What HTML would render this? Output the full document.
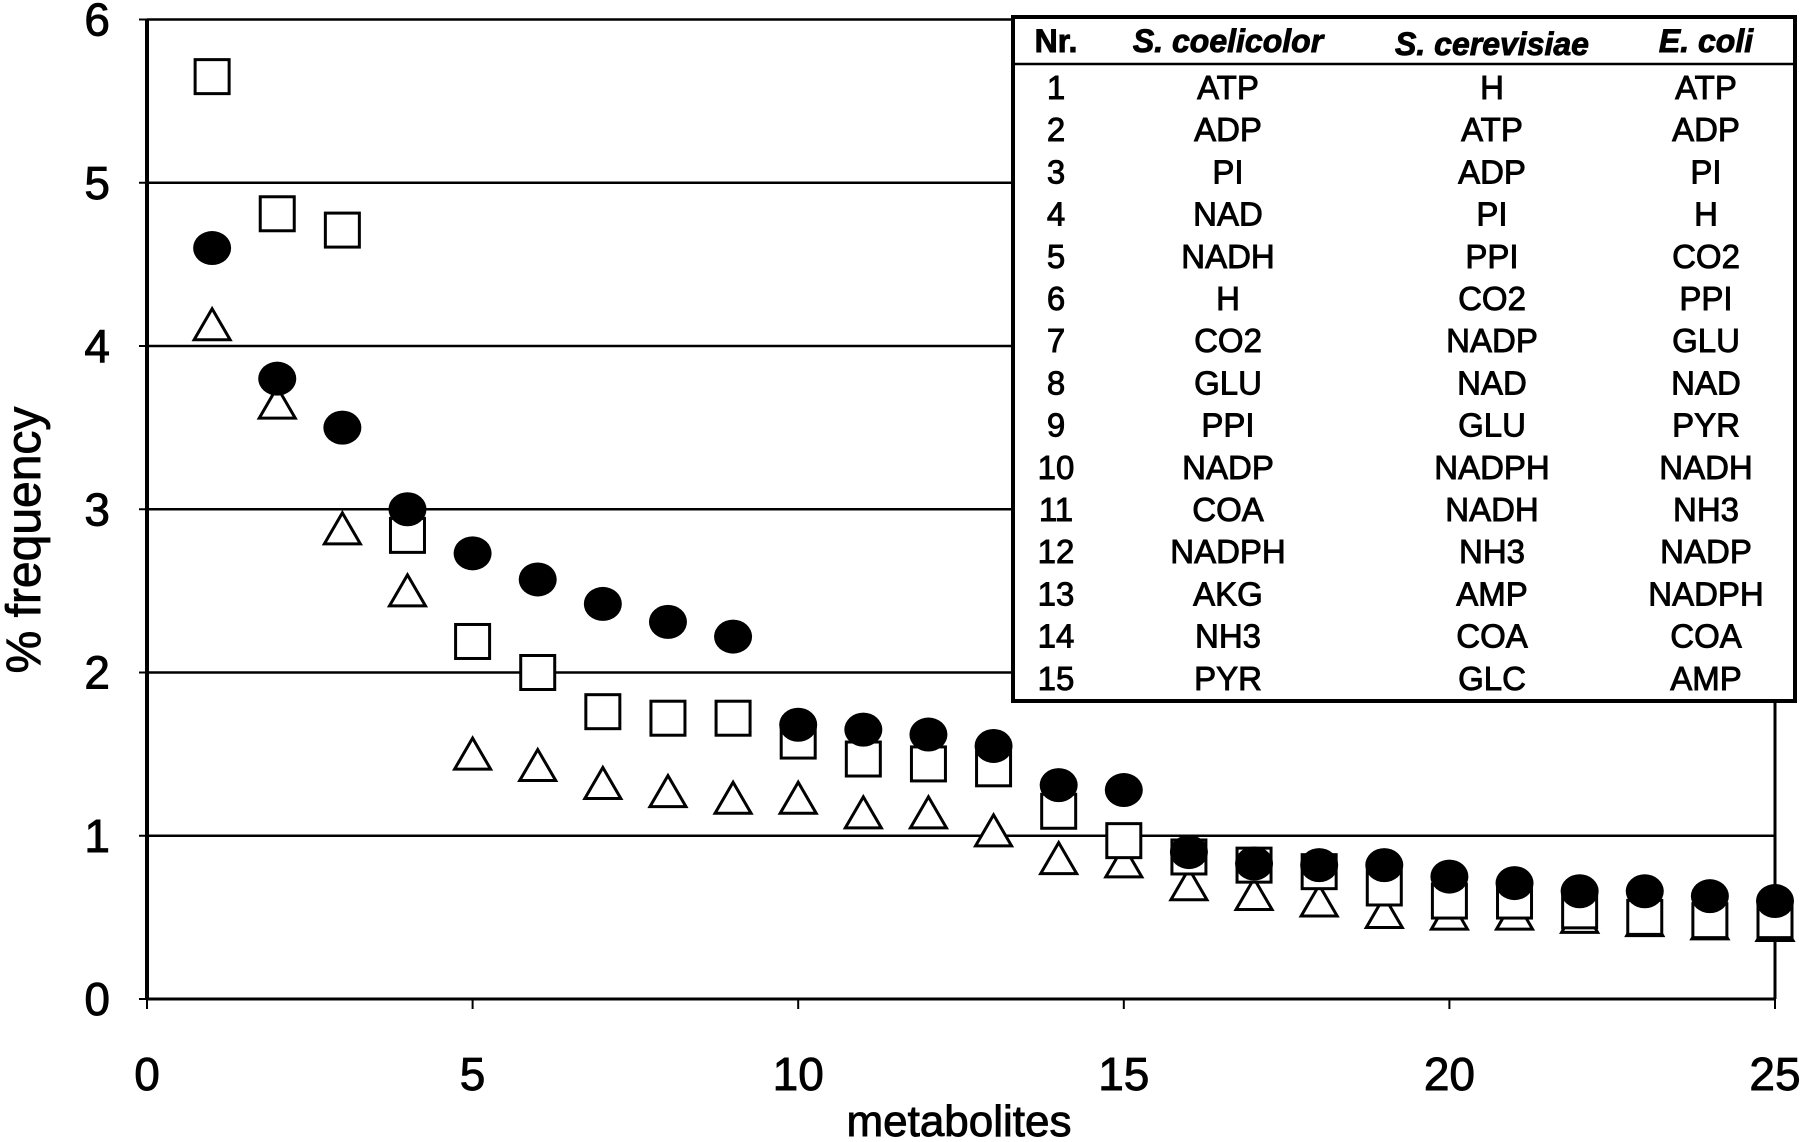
<!DOCTYPE html>
<html><head><meta charset="utf-8"><style>
body{margin:0;background:#fff}
svg{display:block;font-family:"Liberation Sans",Arial,sans-serif}
svg text{stroke:#000;stroke-width:0.9px}
</style></head><body>
<svg id="chart" width="1800" height="1142" viewBox="0 0 1800 1142" xmlns="http://www.w3.org/2000/svg">
<g id="grid"></g>
<g id="axes"></g>
<g id="marks"></g>
<text x="959" y="1136" font-size="44" text-anchor="middle">metabolites</text>
<text transform="translate(40,540) rotate(-90)" font-size="48" text-anchor="middle">% frequency</text>
<g id="table"></g>
</svg>
<script>
const xTicks=[0,5,10,15,20,25];
const yTicks=[0,1,2,3,4,5,6];
const xs=[1,2,3,4,5,6,7,8,9,10,11,12,13,14,15,16,17,18,19,20,21,22,23,24,25];
const circleVals=[4.6,3.8,3.5,3.0,2.73,2.57,2.42,2.31,2.22,1.68,1.65,1.62,1.55,1.31,1.28,0.9,0.83,0.82,0.82,0.75,0.71,0.66,0.66,0.63,0.6];
const squareVals=[5.65,4.81,4.71,2.84,2.19,2.0,1.76,1.72,1.72,1.58,1.47,1.44,1.41,1.15,0.97,0.87,0.82,0.78,0.68,0.6,0.6,0.54,0.5,0.48,0.48];
const triangleVals=[4.13,3.65,2.88,2.5,1.5,1.43,1.32,1.27,1.23,1.23,1.14,1.14,1.03,0.86,0.84,0.7,0.64,0.6,0.53,0.52,0.52,0.5,0.48,0.46,0.45];
const tableHeader=["Nr.","S. coelicolor","S. cerevisiae","E. coli"];
const colCoel=["ATP","ADP","PI","NAD","NADH","H","CO2","GLU","PPI","NADP","COA","NADPH","AKG","NH3","PYR"];
const colCer=["H","ATP","ADP","PI","PPI","CO2","NADP","NAD","GLU","NADPH","NADH","NH3","AMP","COA","GLC"];
const colEcoli=["ATP","ADP","PI","H","CO2","PPI","GLU","NAD","PYR","NADH","NH3","NADP","NADPH","COA","AMP"];

const NS="http://www.w3.org/2000/svg";
const X0=147,X1=1775,Y0=999,Y1=19.5;
const xS=v=>X0+(X1-X0)*v/25;
const yS=v=>Y0-(Y0-Y1)*v/6;
function mk(tag,parent,attrs){const e=document.createElementNS(NS,tag);for(const k in attrs)e.setAttribute(k,attrs[k]);parent.appendChild(e);return e;}
const grid=document.getElementById('grid'),axes=document.getElementById('axes'),marks=document.getElementById('marks'),table=document.getElementById('table');

yTicks.forEach(t=>{
  if(t>0&&t<6){const l=mk('line',grid,{x1:X0,x2:X1,y1:yS(t),y2:yS(t),stroke:'#000','stroke-width':2.5});
  
  }
  const tk=mk('line',axes,{x1:X0-8,x2:X0,y1:yS(t),y2:yS(t),stroke:'#000','stroke-width':2});
  
  
  const tx=mk('text',axes,{x:110,y:yS(t)+16,'font-size':46,'text-anchor':'end'});
  tx.textContent=t;
  
  
});
xTicks.forEach(t=>{
  const tk=mk('line',axes,{x1:xS(t),x2:xS(t),y1:Y0,y2:Y0+10,stroke:'#000','stroke-width':2});
  
  
  const tx=mk('text',axes,{x:xS(t),y:1090,'font-size':46,'text-anchor':'middle'});
  tx.textContent=t;
  
  
});
let a=mk('line',axes,{x1:X0,x2:X0,y1:Y1,y2:Y0,stroke:'#000','stroke-width':4});


a=mk('line',axes,{x1:X0,x2:X1,y1:Y0,y2:Y0,stroke:'#000','stroke-width':3});


a=mk('line',axes,{x1:X0,x2:X1,y1:Y1,y2:Y1,stroke:'#000','stroke-width':2.5});


a=mk('line',axes,{x1:X1,x2:X1,y1:Y1,y2:Y0,stroke:'#000','stroke-width':3});



xs.forEach((x,i)=>{
  const cx=xS(x),cy=yS(triangleVals[i]);
  const p=mk('polygon',marks,{points:`${cx-18},${cy+15} ${cx+18},${cy+15} ${cx},${cy-16}`,fill:'#fff',stroke:'#000','stroke-width':3});
  
  
});
xs.forEach((x,i)=>{
  const r=mk('rect',marks,{x:xS(x)-17,y:yS(squareVals[i])-17,width:34,height:34,fill:'#fff',stroke:'#000','stroke-width':3});
  
  
});
xs.forEach((x,i)=>{
  const c=mk('ellipse',marks,{cx:xS(x),cy:yS(circleVals[i]),rx:19,ry:17,fill:'#000'});
  
  
});

// table
let b=mk('rect',table,{x:1013,y:17,width:782,height:684,fill:'#fff',stroke:'#000','stroke-width':4});


b=mk('line',table,{x1:1013,x2:1795,y1:64,y2:64,stroke:'#000','stroke-width':2.5});


const cols=[1056,1228,1492,1706];
tableHeader.forEach((h,j)=>{
  const t=mk('text',table,{x:cols[j],y:j==2?55:52,'font-size':32,'font-weight':'bold','font-style':j?'italic':'normal','text-anchor':'middle'});
  t.textContent=h;
  
  
});
colCoel.forEach((v,i)=>{
  const y=99+i*42.2;
  [String(i+1),v,colCer[i],colEcoli[i]].forEach((s,j)=>{
    const t=mk('text',table,{x:cols[j],y:y,'font-size':33,'text-anchor':'middle'});
    t.textContent=s;
    
    
  });
});
</script>
</body></html>
